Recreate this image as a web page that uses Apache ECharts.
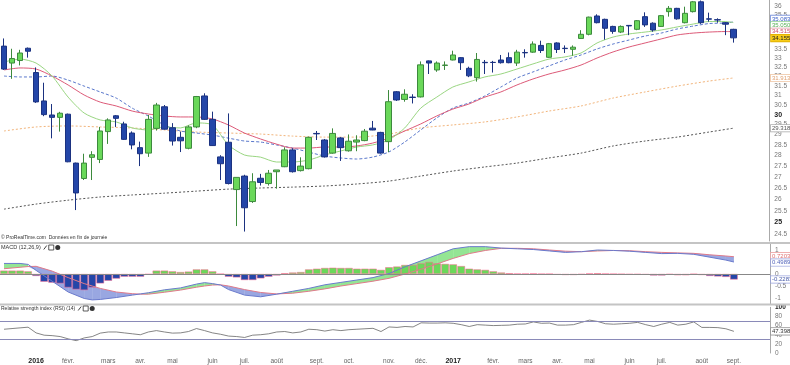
<!DOCTYPE html>
<html><head><meta charset="utf-8">
<script src="https://cdn.jsdelivr.net/npm/echarts@6/dist/echarts.min.js"></script>
<style>html,body{margin:0;padding:0;background:#fff}#c{width:790px;height:365px}</style>
</head><body><div id="c"></div>
<script>
// ---------- data ----------
const firstWeek = '2015-12-07';
const weekCount = 96;
const monthNames = ['janv.','févr.','mars','avr.','mai','juin','juil.','août','sept.','oct.','nov.','déc.'];
const priceTicks = [24.5,25,25.5,26,26.5,27,27.5,28,28.5,29,29.5,30,30.5,31,31.5,32,32.5,33,33.5,34,34.5,35,35.5,36];
const macdTicks = [1,0.5,0,-0.5,-1];
const rsiTicks = [100,80,60,40,20,0];

const open = [33.68,32.73,32.87,33.56,32.21,30.70,29.98,29.86,30.02,27.64, 26.93,27.91,27.81,29.15,29.94,29.53,29.08,28.37,28.11,29.31, 30.40,29.34,28.87,28.34,29.38,30.96,29.76,27.93,28.63,26.43, 27.04,25.90,26.94,26.70,27.24,27.47,28.26,27.29,27.38,29.06, 28.74,28.11,28.84,28.22,28.64,28.71,29.32,29.11,28.66,31.18, 30.78,30.90,30.91,32.85,32.35,32.60,32.90,33.03,32.44,31.93, 32.77,32.77,32.90,33.03,32.73,33.32,33.34,33.72,33.05,33.86, 33.56,33.50,34.12,34.36,35.44,35.24,34.82,34.49,34.88,34.65, 35.40,35.01,34.82,35.70,35.90,35.04,35.70,36.30,35.27,35.22, 35.04,34.65];
const high = [34.12,33.53,33.47,33.60,32.49,31.66,30.54,30.14,30.05,27.66, 28.08,28.20,29.38,29.81,29.98,29.64,29.16,28.66,29.98,30.60, 30.49,29.57,29.15,29.46,30.96,31.10,30.15,28.01,30.06,26.98, 27.10,27.17,27.14,27.32,27.32,28.39,28.34,27.91,28.90,29.18, 28.79,29.31,28.88,29.01,28.97,29.28,29.68,29.14,31.27,31.22, 31.31,31.05,32.82,32.87,32.82,32.82,33.42,33.06,32.53,33.29, 32.90,32.85,33.18,33.32,33.47,33.50,33.95,33.99,33.86,33.90, 33.72,33.72,34.60,35.40,35.54,35.28,34.86,34.88,34.90,35.20, 35.66,35.06,35.50,36.04,35.93,36.00,36.35,36.38,35.64,35.30, 35.08,34.68];
const low = [32.35,31.87,32.60,33.03,30.60,29.92,28.82,29.15,27.68,25.53, 26.86,26.86,27.64,28.55,29.38,28.74,28.29,27.50,27.93,29.20, 29.25,28.47,28.16,28.29,29.32,29.73,28.45,26.86,26.66,24.85, 24.62,25.84,26.61,26.61,26.47,27.45,27.20,27.25,27.35,28.74, 27.90,28.08,27.74,28.18,28.20,28.68,29.22,28.08,28.16,30.70, 30.66,30.57,30.88,32.13,32.25,32.35,32.88,32.35,31.96,31.72, 32.13,32.21,32.70,32.72,32.57,33.03,33.30,33.29,33.02,33.29, 33.29,33.14,34.10,34.30,35.00,34.05,34.39,34.43,34.31,34.60, 34.79,34.51,34.79,35.40,35.22,35.00,35.65,34.97,35.10,35.04, 34.31,33.88];
const close = [32.40,32.98,33.29,33.39,30.65,30.00,29.86,30.07,27.70,26.28, 27.64,28.03,29.18,29.73,29.81,28.77,28.50,28.08,29.76,30.49, 29.27,28.69,28.70,29.38,30.93,29.76,28.47,27.61,26.70,26.98, 25.63,26.78,26.75,27.17,27.32,28.26,27.24,27.50,28.87,29.04, 27.93,29.06,28.37,28.68,28.74,29.17,29.23,28.11,30.66,30.75, 31.05,30.88,32.63,32.73,32.73,32.62,33.18,32.75,32.03,32.93, 32.75,32.76,32.75,32.75,33.34,33.30,33.80,33.43,33.82,33.49, 33.54,33.62,34.36,35.37,35.04,34.71,34.53,34.82,34.85,35.16, 34.91,34.61,35.46,35.90,35.27,35.60,36.30,35.04,35.25,35.20, 34.95,34.155];

// moving averages: [week index, value]
const maFast = [[0,32.79],[2,32.95],[4,32.73],[6,32.02],[8,30.90],[10,30.08],[12,29.73],[14,29.63],[16,29.33],[18,29.23],[20,29.38],[22,29.33],[24,29.58],[26,29.48],[28,28.50],[30,28.02],[32,27.92],[34,27.69],[36,27.69],[38,27.78],[40,28.02],[42,28.21],[44,28.40],[46,28.50],[48,28.74],[50,29.33],[52,30.33],[54,30.90],[56,31.43],[58,31.70],[60,31.97],[62,32.13],[64,32.40],[66,32.68],[68,32.95],[70,33.07],[72,33.29],[74,33.86],[76,34.20],[78,34.38],[80,34.49],[82,34.61],[84,34.79],[86,34.96],[88,35.11],[90,35.11],[91,35.05]];
const maRed = [[0,32.35],[2,32.46],[4,32.40],[6,32.02],[8,31.54],[10,31.01],[12,30.64],[14,30.44],[16,30.18],[18,30.03],[20,29.93],[22,29.88],[24,29.88],[26,29.78],[28,29.48],[30,29.08],[32,28.79],[34,28.54],[36,28.35],[38,28.35],[40,28.40],[42,28.40],[44,28.45],[46,28.59],[48,28.83],[50,29.18],[52,29.53],[54,29.93],[56,30.28],[58,30.54],[60,30.90],[62,31.17],[64,31.54],[66,31.86],[68,32.13],[70,32.35],[72,32.62],[74,33.01],[76,33.35],[78,33.63],[80,33.86],[82,34.09],[84,34.32],[86,34.43],[88,34.49],[90,34.52],[91,34.515]];
const maBlue = [[0,32.02],[2,31.97],[4,31.97],[6,32.02],[8,31.80],[10,31.48],[12,31.17],[14,30.85],[16,30.33],[18,29.93],[20,29.48],[22,29.18],[24,29.08],[26,28.98],[28,28.83],[30,28.69],[32,28.64],[34,28.50],[36,28.35],[38,28.16],[40,27.97],[42,27.88],[44,27.83],[46,27.92],[48,28.16],[50,28.64],[52,29.23],[54,29.83],[56,30.33],[58,30.59],[60,30.96],[62,31.43],[64,31.91],[66,32.24],[68,32.57],[70,32.90],[72,33.18],[74,33.52],[76,33.80],[78,34.03],[80,34.26],[82,34.43],[84,34.67],[86,34.84],[88,34.99],[90,35.02],[91,35.083]];
const maOrange = [[0,29.18],[4,29.38],[8,29.43],[12,29.38],[16,29.33],[20,29.23],[24,29.13],[28,29.08],[32,29.03],[36,28.93],[40,28.88],[44,28.88],[48,29.03],[52,29.33],[56,29.48],[60,29.63],[64,29.88],[68,30.18],[72,30.44],[76,30.85],[80,31.17],[84,31.48],[88,31.75],[91,31.913]];
const maGray = [[0,25.57],[4,25.79],[8,25.96],[12,26.10],[16,26.19],[20,26.27],[24,26.36],[28,26.45],[32,26.50],[36,26.54],[40,26.59],[44,26.68],[48,26.81],[52,27.04],[56,27.27],[60,27.46],[64,27.64],[68,27.88],[72,28.11],[76,28.45],[80,28.69],[84,28.88],[88,29.13],[91,29.318]];

const macdIdx =    [0,2,3,4,6,8,10,11,12,14,16,17,18,20,22,24,25,26,27,28,30,32,34,36,38,40,42,44,46,48,50,52,54,56,58,60,62,64,66,68,70,72,74,76,78,80,82,84,86,88,90,91];
const macdLine =   [0.44,0.44,0.40,0.15,-0.30,-0.75,-1.02,-1.08,-1.06,-0.98,-0.88,-0.83,-0.78,-0.66,-0.58,-0.42,-0.36,-0.40,-0.46,-0.65,-0.88,-0.95,-0.84,-0.72,-0.60,-0.45,-0.35,-0.25,-0.15,0.02,0.30,0.55,0.80,1.05,1.14,1.14,1.08,1.05,1.02,0.96,0.90,0.93,1.00,0.98,0.95,0.90,0.85,0.86,0.82,0.70,0.58,0.4989];
const signalLine = [0.22,0.28,0.31,0.32,0.12,-0.15,-0.40,-0.50,-0.60,-0.75,-0.82,-0.84,-0.84,-0.76,-0.67,-0.55,-0.50,-0.46,-0.45,-0.50,-0.65,-0.77,-0.83,-0.80,-0.72,-0.62,-0.50,-0.40,-0.30,-0.18,0.00,0.20,0.42,0.65,0.85,0.98,1.07,1.07,1.05,1.00,0.95,0.93,0.96,0.98,0.97,0.93,0.90,0.88,0.86,0.80,0.75,0.7203];
const macdHist = [0.14,0.14,0.14,0.11,-0.08,-0.32,-0.36,-0.39,-0.56,-0.64, -0.67,-0.56,-0.39,-0.28,-0.19,-0.11,-0.11,-0.11,-0.02,0.14, 0.14,0.11,0.08,0.10,0.19,0.19,0.11,0.00,-0.11,-0.14, -0.25,-0.25,-0.18,-0.11,-0.06,0.03,0.06,0.08,0.19,0.22, 0.25,0.26,0.25,0.25,0.22,0.22,0.22,0.17,0.28,0.31, 0.375,0.375,0.44,0.50,0.44,0.42,0.40,0.33,0.22,0.19, 0.17,0.11,0.06,0.03,0.01,0.01,0.02,0.00,0.00,-0.03, -0.04,-0.04,-0.02,0.02,0.03,0.01,0.00,-0.01,-0.02,-0.02, -0.03,-0.06,-0.06,-0.02,-0.05,-0.05,-0.01,-0.04,-0.08,-0.10, -0.12,-0.2283];
const rsi = [52,53.5,55,56.5,44,39,38,36,31,27, 33,36,43.5,46,46,44,42,40,46,49, 46,43.5,44,47,53.5,49,44,41,37,36, 34,39,40,42,46,47,44,46,52,51, 48,51,49,51,52,53,54,47,57,56, 58,57,66,65.5,65.5,66,65,62,58,62, 61,60,60.5,61,63,63.5,68,65,65.5,61, 61,62,67,72,69,64,63,64,65,67, 62,58,63,67,61,63,68,56,56,55.5, 53,47.398];
const rsiLevels = [70,30];

const priceTags = [
  {v:35.083, text:'35.083', color:'#3a5fc8', border:'#6f8ad8', bg:'#fff'},
  {v:35.050, text:'35.050', color:'#55b055', border:'#8fd08f', bg:'#fff'},
  {v:34.515, text:'34.515', color:'#d0506a', border:'#e090a0', bg:'#fff'},
  {v:34.155, text:'34.155', color:'#222', border:'#e0b000', bg:'#f7cc1a'},
  {v:31.913, text:'31.913', color:'#e0a070', border:'#efc39f', bg:'#fff'},
  {v:29.318, text:'29.318', color:'#555', border:'#aaa', bg:'#fff'}
];
const macdTags = [
  {v:0.7203, text:'0.7203', color:'#e07070', border:'#eeaaaa', bg:'#fff'},
  {v:0.4989, text:'0.4989', color:'#5566bb', border:'#9aa4dd', bg:'#fff'},
  {v:-0.2283, text:'-0.2283', color:'#4458a8', border:'#9aa4dd', bg:'#fff'}
];
const rsiTags = [{v:47.398, text:'47.398', color:'#333', border:'#999', bg:'#fff'}];

// ---------- build ----------
const L = Math.log;
const categories = [];
const d0 = new Date(firstWeek + 'T00:00:00Z');
for (let i = 0; i < weekCount; i++) categories.push(new Date(d0.getTime() + i * 7 * 86400000).toISOString().slice(0, 10));
function monthLabel(cat, idx) {
  if (idx === 0 || idx >= close.length) return '';
  const [y, m, d] = cat.split('-').map(Number);
  if (d > 7) return '';
  return m === 1 ? '{y|' + y + '}' : monthNames[m - 1];
}
const FONT = 'Liberation Sans';
const candleData = close.map((c, i) => [L(open[i]), L(c), L(low[i]), L(high[i])]);
const logPairs = arr => arr.map(p => [p[0], L(p[1])]);
const macdSeg = [];
for (let k = 0; k < macdIdx.length - 1; k++) macdSeg.push([macdIdx[k], macdLine[k], signalLine[k], macdIdx[k+1], macdLine[k+1], signalLine[k+1]]);
const fmtNum = p => (Math.abs(p % 1) < 1e-9 ? String(p) : p.toFixed(1));

const grids = [
  {left: 0, right: 20, top: 0, height: 241},
  {left: 0, right: 20, top: 243, height: 61},
  {left: 0, right: 20, top: 307.3, height: 46}
];
const xAxes = [0,1,2].map(g => ({
  type: 'category', gridIndex: g, data: categories, boundaryGap: true,
  axisLine: {show: false}, axisTick: {show: false}, splitLine: {show: false},
  axisLabel: g === 2 ? {
    show: true, interval: (idx, val) => monthLabel(val, idx) !== '', formatter: (val, idx) => monthLabel(val, idx),
    fontSize: 6.5, color: '#666', fontFamily: FONT, margin: 5,
    rich: {y: {fontWeight: 'bold', color: '#222', fontSize: 7, fontFamily: FONT}}
  } : {show: false}
}));
const yLine = {show: true, lineStyle: {color: '#aaa', width: 1}};
const yAxes = [
  {type: 'value', gridIndex: 0, position: 'right', min: L(24.23), max: L(36.41), scale: true,
   axisLine: yLine, axisTick: {show: false}, splitLine: {show: false},
   axisLabel: {customValues: priceTicks.map(L), fontSize: 6.5, color: '#777', fontFamily: FONT, margin: 5,
     formatter: v => { const p = Math.round(Math.exp(v) * 2) / 2; const s = fmtNum(p); return p % 5 === 0 ? '{b|' + s + '}' : s; },
     rich: {b: {fontWeight: 'bold', color: '#222', fontSize: 7, fontFamily: FONT}}}},
  {type: 'value', gridIndex: 1, position: 'right', min: -1.25, max: 1.2917,
   axisLine: yLine, axisTick: {show: false}, splitLine: {show: false},
   axisLabel: {customValues: macdTicks, fontSize: 6.5, color: '#777', fontFamily: FONT, margin: 5, formatter: v => String(v)}},
  {type: 'value', gridIndex: 2, position: 'right', min: 0, max: 100,
   axisLine: yLine, axisTick: {show: false}, splitLine: {show: false},
   axisLabel: {customValues: rsiTicks, fontSize: 6.5, color: '#777', fontFamily: FONT, margin: 5,
     formatter: v => v === 100 ? '{b|100}' : String(v), rich: {b: {fontWeight: 'bold', color: '#222', fontSize: 6.5, fontFamily: FONT}}}}
];
const maLine = (name, data, color, type, width) => ({
  name, type: 'line', xAxisIndex: 0, yAxisIndex: 0, data: logPairs(data), showSymbol: false, smooth: 0.25,
  lineStyle: {color, type, width: width || 1}, z: 3, silent: true
});
const GREEN = '#6ad85a', GREEN_B = '#3d8a3d', BLUE = '#2446a8', BLUE_B = '#1b3280';

const option = {
  animation: false,
  backgroundColor: '#fff',
  textStyle: {fontFamily: FONT},
  grid: grids,
  xAxis: xAxes,
  yAxis: yAxes,
  series: [
    maLine('MM lente', maGray, '#555', [2, 2], 1),
    maLine('MM 50', maOrange, '#f2b47a', [2, 2], 1),
    maLine('MM 20', maBlue, '#5a78cc', [3, 2], 1),
    maLine('MM 10', maRed, '#dd5a78', 'solid', 1),
    maLine('MM 7', maFast, '#9ad682', 'solid', 1),
    {type: 'candlestick', xAxisIndex: 0, yAxisIndex: 0, data: candleData, barWidth: 6, z: 5,
     itemStyle: {color: GREEN, color0: BLUE, borderColor: GREEN_B, borderColor0: BLUE_B, borderWidth: 1}},
    {type: 'custom', xAxisIndex: 1, yAxisIndex: 1, data: macdSeg, z: 1, silent: true,
     encode: {x: [0, 3], y: [1, 2, 4, 5]},
     renderItem: (params, api) => {
       const x0 = api.value(0), m0 = api.value(1), s0 = api.value(2), x1 = api.value(3), m1 = api.value(4), s1 = api.value(5);
       const P = (x, y) => api.coord([x, y]);
       const col = d => d >= 0 ? 'rgba(90,215,90,0.65)' : 'rgba(70,95,200,0.55)';
       const dd0 = m0 - s0, dd1 = m1 - s1;
       const ch = [];
       if (dd0 * dd1 < 0) {
         const t = dd0 / (dd0 - dd1), xc = x0 + t * (x1 - x0), yc = m0 + t * (m1 - m0);
         ch.push({type: 'polygon', shape: {points: [P(x0, m0), P(xc, yc), P(x0, s0)]}, style: {fill: col(dd0)}});
         ch.push({type: 'polygon', shape: {points: [P(xc, yc), P(x1, m1), P(x1, s1)]}, style: {fill: col(dd1)}});
       } else {
         ch.push({type: 'polygon', shape: {points: [P(x0, m0), P(x1, m1), P(x1, s1), P(x0, s0)]}, style: {fill: col(dd0 + dd1)}});
       }
       return {type: 'group', children: ch};
     }},
    {type: 'bar', xAxisIndex: 1, yAxisIndex: 1, data: macdHist, barCategoryGap: '6%', z: 2,
     itemStyle: {color: p => p.value >= 0 ? GREEN : BLUE, borderColor: p => p.value >= 0 ? GREEN_B : BLUE_B, borderWidth: 0.5},
     markLine: {silent: true, symbol: 'none', label: {show: false}, lineStyle: {color: '#888', type: 'solid', width: 1}, data: [{yAxis: 0}]}},
    {type: 'line', xAxisIndex: 1, yAxisIndex: 1, data: macdIdx.map((x, k) => [x, signalLine[k]]), showSymbol: false,
     lineStyle: {color: '#e07a8a', width: 1}, z: 3},
    {type: 'line', xAxisIndex: 1, yAxisIndex: 1, data: macdIdx.map((x, k) => [x, macdLine[k]]), showSymbol: false,
     lineStyle: {color: '#6a7acc', width: 1}, z: 3},
    {type: 'line', xAxisIndex: 2, yAxisIndex: 2, data: rsi, showSymbol: false,
     lineStyle: {color: '#666', width: 0.8}, z: 3,
     markLine: {silent: true, symbol: 'none', label: {show: false}, lineStyle: {color: '#8a8ab8', type: 'solid', width: 1}, data: rsiLevels.map(v => ({yAxis: v}))}}
  ]
};
const chart = echarts.init(document.getElementById('c'), null, {width: 790, height: 365});
chart.setOption(option);

function tagElems(tags, axisIdx, tf) {
  tags.forEach(t => { t.y = chart.convertToPixel({yAxisIndex: axisIdx}, tf(t.v)); });
  const s = tags.slice().sort((a, b) => a.y - b.y), gap = 6.4;
  for (let it = 0; it < 30; it++) for (let k = 1; k < s.length; k++) {
    const d = s[k].y - s[k-1].y; if (d < gap) { const h = (gap - d) / 2; s[k].y += h; s[k-1].y -= h; }
  }
  return tags.map(t => ({type: 'text', x: 771, y: t.y, z: 100,
    style: {text: t.text, fill: t.color, font: '6px "' + FONT + '"', verticalAlign: 'middle',
      backgroundColor: t.bg, borderColor: t.border, borderWidth: 0.8, padding: [0.5, 1, 0, 1]}}));
}
const measure = document.createElement('canvas').getContext('2d');
const textW = (s, size) => { measure.font = size + 'px "' + FONT + '"'; return measure.measureText(s).width; };
const txt = (x, y, s, size) => ({type: 'text', x, y, z: 50, style: {text: s, fill: '#333', font: size + 'px "' + FONT + '"', verticalAlign: 'middle'}});
const icons = (x, y) => [
  {type: 'line', z: 50, shape: {x1: x, y1: y + 2, x2: x + 3, y2: y - 2}, style: {stroke: '#444', lineWidth: 1}},
  {type: 'rect', z: 50, shape: {x: x + 5, y: y - 2.5, width: 5, height: 5}, style: {fill: '#fff', stroke: '#333', lineWidth: 0.8}},
  {type: 'circle', z: 50, shape: {cx: x + 14, cy: y, r: 2.5}, style: {fill: '#333'}}
];
const macdTitle = 'MACD (12,26,9)', rsiTitle = 'Relative strength index (RSI) (14)';
const graphic = [
  {type: 'line', z: 40, shape: {x1: 0, y1: 243, x2: 790, y2: 243}, style: {stroke: '#c4c4c4', lineWidth: 2}},
  {type: 'line', z: 40, shape: {x1: 0, y1: 304.5, x2: 790, y2: 304.5}, style: {stroke: '#c4c4c4', lineWidth: 2}},
  txt(1, 238, '© ProRealTime.com  Données en fin de journée', 5),
  txt(1, 247.5, macdTitle, 5.5),
  ...icons(1 + textW(macdTitle, 5.5) + 3, 247.5),
  txt(1, 308.5, rsiTitle, 5),
  ...icons(1 + textW(rsiTitle, 5) + 3, 308.5),
  ...tagElems(priceTags, 0, L),
  ...tagElems(macdTags, 1, v => v),
  ...tagElems(rsiTags, 2, v => v)
];
chart.setOption({graphic});
</script>
</body></html>
